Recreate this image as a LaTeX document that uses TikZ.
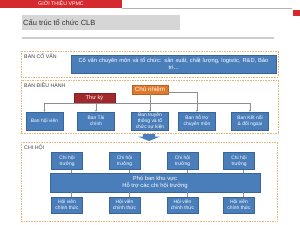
\documentclass[tikz,border=0pt]{standalone}
\usepackage{fontspec}
\setmainfont{Liberation Sans}
\usetikzlibrary{arrows.meta,calc}
\definecolor{hdrred}{HTML}{D42A2F}
\definecolor{boxblue}{HTML}{4A7EBB}
\definecolor{boxedge}{HTML}{3A6596}
\definecolor{dotcol}{HTML}{E2B57A}
\definecolor{cnorange}{HTML}{E2792A}
\definecolor{tkred}{HTML}{A3282B}
\definecolor{titlegray}{HTML}{D6D6D6}
\definecolor{linegray}{HTML}{8F8F8F}
\begin{document}
\begin{tikzpicture}[x=0.03cm,y=-0.03cm,
 bluebox/.style={draw=boxedge, line width=0.3pt, fill=boxblue, text=white, align=center, inner sep=0.5pt, font=\fontsize{4.2}{5}\selectfont},
 banbox/.style={bluebox, minimum width=1.11cm, minimum height=0.54cm},
 chbox/.style={bluebox, minimum width=0.93cm, minimum height=0.51cm},
 hvbox/.style={bluebox, minimum width=0.93cm, minimum height=0.48cm},
 section/.style={draw=dotcol, line width=0.6pt, dash pattern=on 0.7pt off 0.7pt},
 seclabel/.style={anchor=north west, inner sep=0pt, text=black!75, font=\fontsize{4.5}{5}\selectfont},
 conn/.style={draw=linegray, line width=0.35pt},
 tip/.style={conn, -{Stealth[length=1.6pt,width=1.6pt]}},
]
\useasboundingbox (0,0) rectangle (300,225);
\fill[white] (0,0) rectangle (300,225);

% header
\fill[hdrred] (0,0) rectangle (122,8);
\node[text=white, font=\fontsize{4.5}{5}\selectfont, inner sep=0pt] (hdr) at (61,4) {GIỚI THIỆU VPMC};
\draw[black!30, line width=0.5pt] (122,8) -- (292,8);
\fill[hdrred] (293,10) rectangle (300,16);

% title
\fill[titlegray] (22,15) rectangle (180,30);
\node[anchor=west, inner sep=0pt, text=black!80, font=\fontsize{6.4}{7}\selectfont] (title) at (23,22.5) {Cấu trúc tổ chức CLB};
\draw[black!20, line width=1.2pt] (22,38) -- (274,38);

% sections
\draw[section] (21,51) rectangle (278,77);
\node[seclabel] (lcv) at (24,54) {BAN CỐ VẤN};
\draw[section] (21,80) rectangle (278,133);
\node[seclabel] (ldh) at (24,82.5) {BAN ĐIỀU HÀNH};
\draw[section] (21,142) rectangle (277,221);
\node[seclabel] (lch) at (24,145) {CHI HỘI};

% co van
\node[bluebox, minimum width=6.15cm, minimum height=0.54cm, text width=6.0cm, font=\fontsize{4.9}{5.8}\selectfont] (cv) at (173.5,64) {Cố vấn chuyên môn và tổ chức: sản xuất, chất lượng, logistic, R\&D, Bảo\\ trì...};

% ban dieu hanh
\node[fill=cnorange, draw=cnorange!80!black, line width=0.3pt, text=white, minimum width=1.08cm, minimum height=0.27cm, inner sep=0pt, font=\fontsize{5.3}{6}\selectfont] (cn) at (150,89.5) {Chủ nhiệm};
\node[fill=tkred, draw=tkred!80!black, line width=0.3pt, text=white, minimum width=1.23cm, minimum height=0.3cm, inner sep=0pt, font=\fontsize{4.8}{5.5}\selectfont] (tk) at (94.5,98) {Thư ký};

\node[banbox] (hv) at (44.5,121) {Ban hội viên};
\node[banbox] (tc) at (96,121) {Ban Tài\\ chính};
\node[banbox] (tt) at (150,121) {Ban truyền\\ thông và tổ\\ chức sự kiện};
\node[banbox] (ht) at (197,121) {Ban hỗ trợ\\ chuyên môn};
\node[banbox] (kn) at (250,121) {Ban Kết nối\\ \& đối ngoại};

\coordinate (busL) at (44.5,103);
\coordinate (busR) at (250,103);
\draw[conn] (busL) -- (busR);
\draw[tip] (cn.south) -- (tt.north);
\draw[tip] (busL) -- (hv.north);
\draw[tip] (tc.north |- busL) -- (tc.north);
\draw[tip] (busR) -- (kn.north);
\draw[tip] ([yshift=-2pt]cn.east) -| (ht.north);

% arrow between sections
\fill[boxblue] (143,134) -- (155,134) -- (155,136.5) -- (160,136.5) -- (149,141) -- (138,136.5) -- (143,136.5) -- cycle;

% chi hoi
\node[chbox] (c1) at (67,161) {Chi hội\\ trưởng};
\node[chbox] (c2) at (124.5,161) {Chi hội\\ trưởng};
\node[chbox] (c3) at (182.5,161) {Chi hội\\ trưởng};
\node[chbox] (c4) at (239,161) {Chi hội\\ trưởng};

\node[bluebox, minimum width=6.3cm, minimum height=0.57cm, font=\fontsize{5}{6}\selectfont] (pb) at (155,182.5) {Phó ban khu vực\\ Hỗ trợ các chi hội trưởng};

\node[hvbox] (h1) at (67,205) {Hội viên\\ chính thức};
\node[hvbox] (h2) at (124.5,205) {Hội viên\\ chính thức};
\node[hvbox] (h3) at (182.5,205) {Hội viên\\ chính thức};
\node[hvbox] (h4) at (239,205) {Hội viên\\ chính thức};

\foreach \n in {c1,c2,c3,c4}{
  \draw[conn] ([xshift=4pt]\n.south) -- ([xshift=4pt]\n.south |- pb.north);
}
\foreach \n in {h1,h2,h3,h4}{
  \draw[conn] ([xshift=4pt]\n.north |- pb.south) -- ([xshift=4pt]\n.north);
}
\end{tikzpicture}
\end{document}
